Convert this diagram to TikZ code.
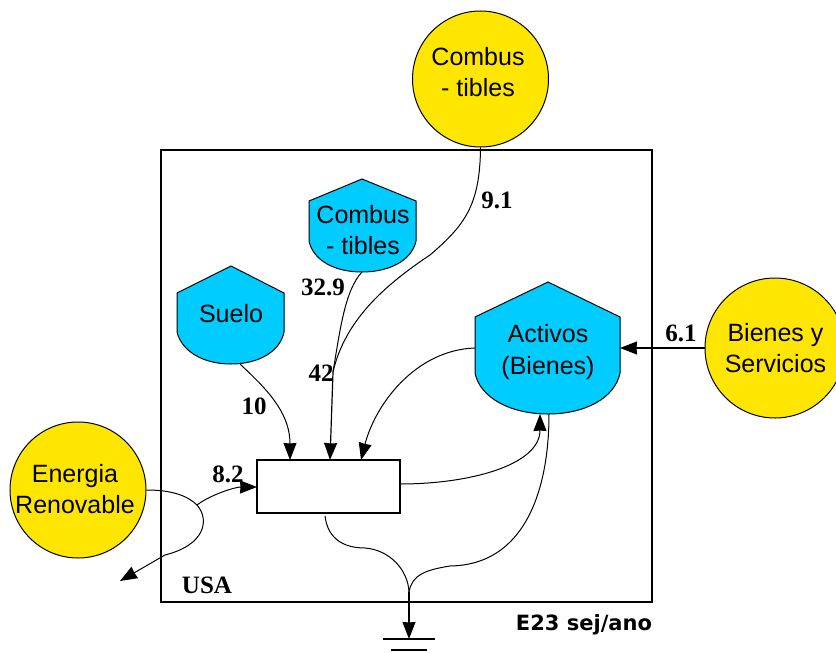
\documentclass[tikz,border=0pt]{standalone}
\usepackage{fontspec}
\setmainfont{Liberation Sans}
\newfontfamily\numfont{Liberation Serif}
\newfontfamily\unitfont{DejaVu Sans}
\usetikzlibrary{arrows.meta}
\definecolor{srcyellow}{RGB}{255,230,0}
\definecolor{storeblue}{RGB}{0,204,255}
\tikzset{
  x=1pt,y=-1pt,
  source/.style={circle,draw=black,line width=1pt,fill=srcyellow,inner sep=0pt,minimum size=#1},
  slot/.style={inner sep=0pt,align=center,font=\fontsize{25}{31.5}\selectfont},
  flow/.style={line width=1pt,draw=black},
  tip/.style={-{Stealth[length=17pt,width=13pt,inset=0.5pt]}},
  val/.style={inner sep=0pt,font=\numfont\bfseries\fontsize{25}{27}\selectfont},
  tankfill/.style={draw=black,line width=1pt,fill=storeblue},
}
\begin{document}
\begin{tikzpicture}
\useasboundingbox (0,0) rectangle (836,653);
\draw[line width=1.4pt] (161,150) rectangle (652,602);

% tanks
\filldraw[tankfill] (177,293) -- (231,266) -- (284,293) -- (284,332)
  .. controls (280,352) and (258,364) .. (231,364) .. controls (204,364) and (182,352) .. (177,332) -- cycle;
\filldraw[tankfill] (309,201) -- (362,179) -- (416,201) -- (416,241)
  .. controls (412,260) and (390,272) .. (362,272) .. controls (334,272) and (313,260) .. (309,241) -- cycle;
\filldraw[tankfill] (475,317) -- (548,282) -- (620,317) -- (620,373)
  .. controls (615,398) and (585,414) .. (548,414) .. controls (511,414) and (480,398) .. (475,373) -- cycle;
\node[slot] (suelo) at (231,314) {Suelo};
\node[slot] (tankfuel) at (363,230) {Combus\\- tibles};
\node[slot] (activos) at (548,352) {Activos\\(Bienes)};

% sources
\node[source=136pt] (fuel) at (480.5,79) {};
\node[source=140pt] (goods) at (775,348) {};
\node[source=136pt] (renew) at (78,490) {};
\node[slot] (fueltext) at (478,72) {Combus\\- tibles};
\node[slot] (goodstext) at (775.5,348) {Bienes y\\Servicios};
\node[slot] (renewtext) at (75,489) {Energia\\Renovable};

% process box
\node[draw=black,line width=1.2pt,fill=white,minimum width=143pt,minimum height=53pt,inner sep=0pt] (box) at (328.5,486.5) {};

% ports
\coordinate (suelofoot) at (240,364);
\coordinate (tankfoot) at (362,272);
\coordinate (boxA) at (290,460);
\coordinate (boxB) at (330,460);
\coordinate (boxC) at (361,460);
\coordinate (merge) at (333,372);
\coordinate (activL) at (475,348);
\coordinate (activR) at (620,348);
\coordinate (activB) at (540,414);
\coordinate (activD) at (549,414);
\coordinate (boxR) at (400,484);
\coordinate (boxD) at (325,516);
\coordinate (drain) at (409,592);
\coordinate (earth) at (409,639);
\coordinate (earthb) at (409,650);
\coordinate (split) at (197,505);
\coordinate (boxL) at (257,487);
\coordinate (lost) at (120,581);

% flows
\draw[flow] (fuel.south) .. controls (480,205) and (465,225) .. (430,255)
  .. controls (385,285) and (345,320) .. (merge);
\draw[flow] (tankfoot) .. controls (345,290) and (340,330) .. (merge);
\draw[flow,tip,line width=1.2pt] (merge) -- (boxB);
\draw[flow,tip] (suelofoot) .. controls (262,385) and (290,410) .. (boxA);
\draw[flow,tip] (activL) .. controls (415,350) and (375,405) .. (boxC);
\draw[flow,tip] (boxR) .. controls (470,484) and (540,465) .. (activB);
\draw[flow] (activD) .. controls (549,490) and (525,565) .. (450,566) .. controls (425,570) and (412,575) .. (drain);
\draw[flow] (boxD) .. controls (328,540) and (345,548) .. (365,548) .. controls (390,550) and (408,570) .. (drain);
\draw[flow,tip,line width=1.2pt] (drain) -- (earth);
\draw[flow,tip,line width=1.2pt] (goods.west) -- (activR);
\draw[flow] (renew.east) .. controls (170,490) and (187,495) .. (split);
\draw[flow,tip] (split) .. controls (210,495) and (235,487) .. (boxL);
\draw[flow,tip] (split) .. controls (210,520) and (205,545) .. (165,555) -- (lost);

% earth
\draw[line width=1.3pt] ([xshift=-26pt]earth) -- ([xshift=26pt]earth);
\draw[line width=1.3pt] ([xshift=-18pt]earthb) -- ([xshift=18pt]earthb);

% labels
\node[val] (v1) at (497,200) {9.1};
\node[val] (v2) at (323,287) {32.9};
\node[val] (v3) at (321,373) {42};
\node[val] (v4) at (254,406) {10};
\node[val] (v5) at (228,474) {8.2};
\node[val] (v6) at (681,333) {6.1};
\node[val] (v7) at (207,585) {USA};
\node[inner sep=0pt,font=\unitfont\bfseries\fontsize{21}{23}\selectfont] (v8) at (584,625) {E23 sej/ano};
\end{tikzpicture}
\end{document}
